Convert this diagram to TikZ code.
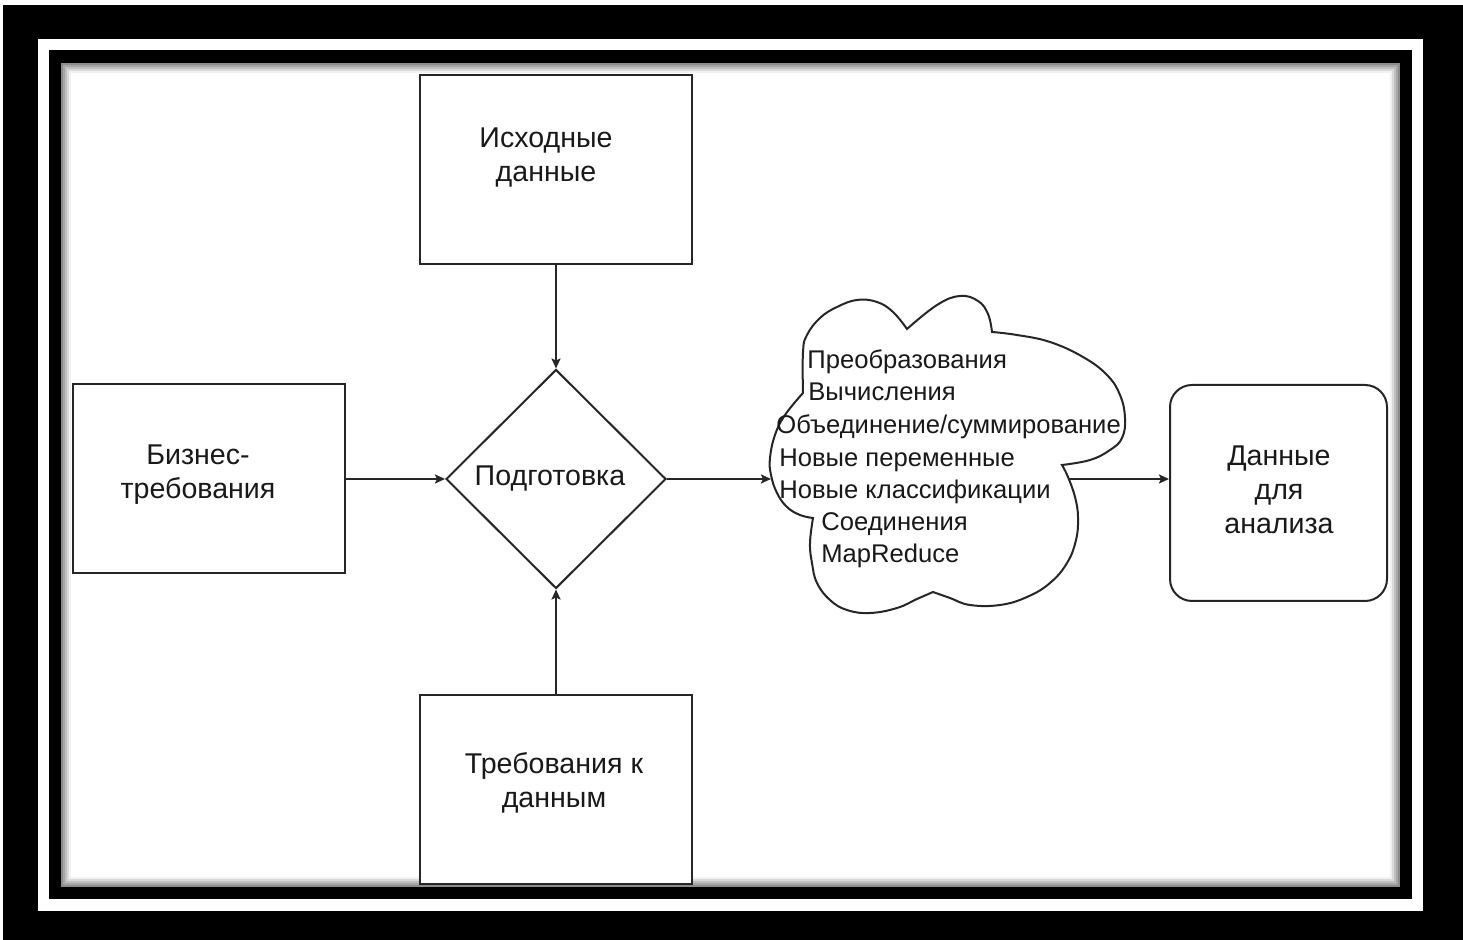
\documentclass[tikz,border=0pt]{standalone}
\usepackage{fontspec}
\setmainfont{Liberation Sans}
\usetikzlibrary{shapes.geometric,arrows.meta}
\tikzset{ blk/.style = { rectangle % block
                       , draw = black!85
                       , line width = 1pt
                       , fill = white
                       , minimum width = 136pt
                       , minimum height = 94.5pt
                       }
        , txt/.style = { align = center % block text
                       , text = black!90
                       , font = \fontsize{14.3}{17}\selectfont
                       }
        , cln/.style = { anchor = base west % cloud line
                       , inner sep = 0pt
                       , text = black!90
                       , font = \fontsize{12.8}{15}\selectfont
                       }
        , arr/.style = { draw = black!85 % connector
                       , line width = 1pt
                       , -{Stealth[length=5pt, width=4.5pt, inset=1pt]}
                       }
        }
\def\cld(#1,#2)#3#4{% cloud text line
\node[cln] (#3) at (#1,#2) {#4};
}

\begin{document}
\begin{tikzpicture}[x=0.5pt, y=-0.5pt]
  \useasboundingbox (0,0) rectangle (1463,940);
  % frame
  \fill[white] (0,0) rectangle (1463,940);
  \fill[black] (3,5) rectangle (1463,940);
  \fill[white] (38,39) rectangle (1423,911);
  \fill[black] (49,50) rectangle (1412,899);
  \fill[white] (61,63) rectangle (1400,887);
  \foreach \i in {0,...,4} {
    \pgfmathtruncatemacro{\g}{45-10*\i}
    \draw[black!\g, line width=1pt] (62+2*\i,64+2*\i) rectangle (1399-2*\i,886-2*\i);
  }

  % blocks
  \node[blk] (src) at (556,169.5) {};
  \node[blk] (biz) at (209,479) {};
  \node[blk] (req) at (556,790) {};
  \node[diamond, draw=black!85, line width=1pt, fill=white, minimum width=110pt, minimum height=109.5pt, inner sep=0pt, txt] (prep) at (556,479) {\raisebox{-1.5pt}{Подготовка}\hspace{6pt}};
  \node[rectangle, rounded corners=11pt, draw=black!85, line width=1pt, fill=white, minimum width=108.5pt, minimum height=108pt] (res) at (1278.5,493) {};

  \node[txt] (srct) at (546,158) {Исходные\\данные};
  \node[txt] (bizt) at (198,475) {Бизнес-\\требования};
  \node[txt] (reqt) at (554,783) {Требования к\\данным};
  \node[txt] (rest) at (1279,490) {Данные\\для\\анализа};

  % cloud
  \draw[black!85, line width=1pt, fill=white]
    plot[smooth, tension=.7] coordinates {(803,393) (803,352) (807,335) (820,318) (837,307) (857,300) (877,302) (893,312) (907,329)}
    -- plot[smooth, tension=.7] coordinates {(907,329) (937,305) (960,296) (978,301) (988,314) (992,332)}
    -- plot[smooth, tension=.7] coordinates {(992,332) (1017,335) (1050,342) (1083,357) (1107,375) (1120,395) (1125,418) (1122,438) (1110,450) (1090,460) (1062,465)}
    -- plot[smooth, tension=.7] coordinates {(1062,465) (1068,477) (1075,497) (1078,517) (1076,540) (1067,563) (1050,583) (1027,597) (1000,605) (970,605) (950,598) (933,592)}
    -- plot[smooth, tension=.7] coordinates {(933,592) (917,599) (897,608) (870,613) (847,610) (830,600) (817,583) (812,563) (810,543) (813,518)}
    -- plot[smooth, tension=.7] coordinates {(813,518) (800,515) (787,507) (777,493) (771,475) (770,458) (775,435) (785,415) (803,393)}
    -- cycle;
  \coordinate (cin) at (771,479);
  \coordinate (cout) at (1068,479);

  \cld(807,369){c1}{Преобразования}
  \cld(808,401){c2}{Вычисления}
  \cld(776,434){c3}{Объединение/суммирование}
  \cld(779,467){c4}{Новые переменные}
  \cld(779,499){c5}{Новые классификации}
  \cld(821,531){c6}{Соединения}
  \cld(821,563){c7}{MapReduce}

  % connectors
  \draw[arr] (src) -- (prep.north);
  \draw[arr] (req) -- (prep.south);
  \draw[arr] (biz) -- (prep.west);
  \draw[arr] (prep.east) -- (cin);
  \draw[arr] (cout) -- (cout -| res.west);
\end{tikzpicture}
\end{document}
